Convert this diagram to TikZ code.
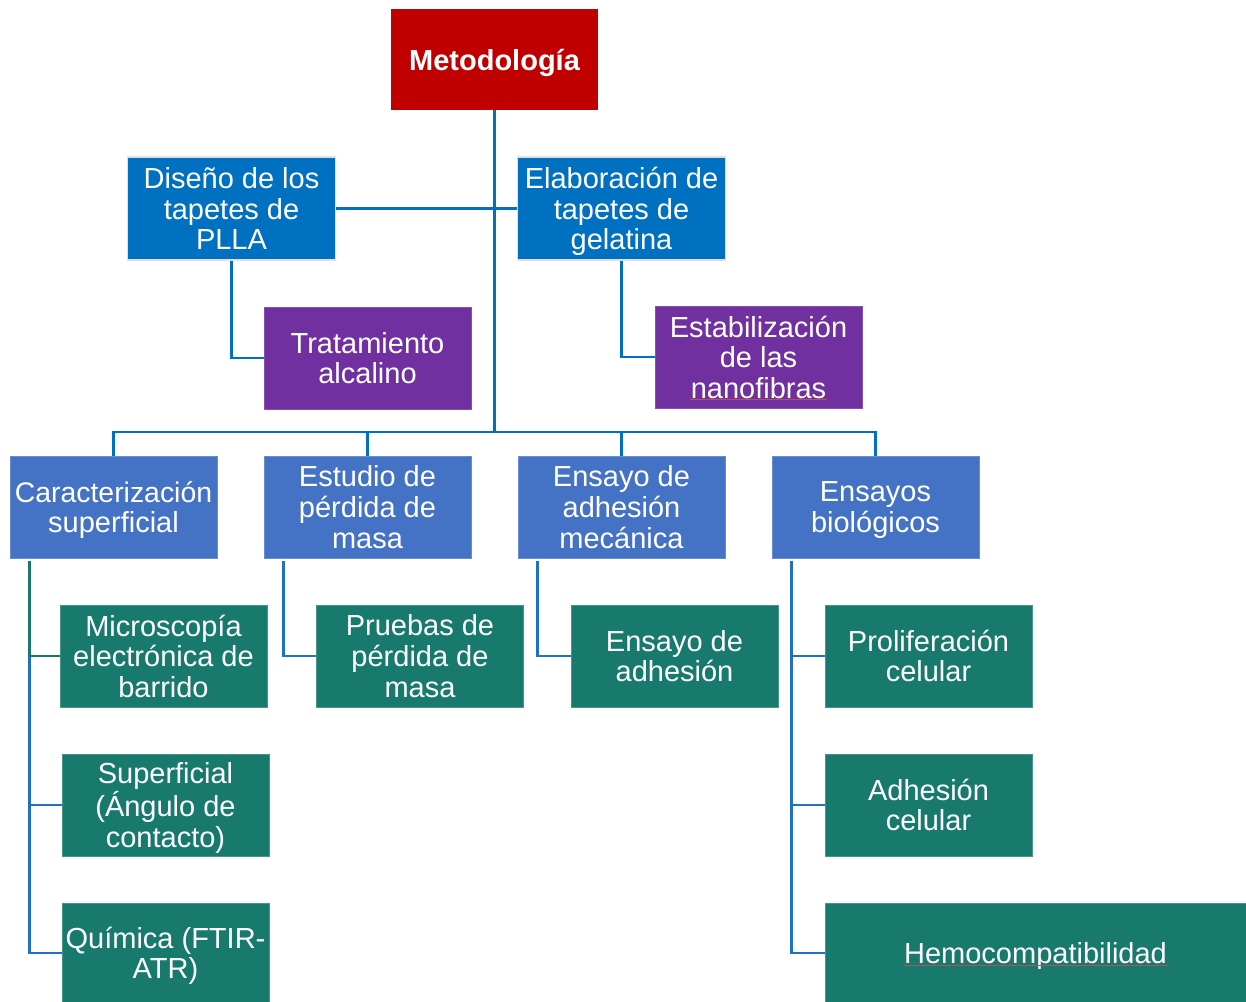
\documentclass[tikz,border=0pt]{standalone}
\usepackage{fontspec}
\setmainfont{Liberation Sans}
\definecolor{cRed}{HTML}{C00000}
\definecolor{cBlue}{HTML}{0070C0}
\definecolor{cPurple}{HTML}{7030A0}
\definecolor{cMid}{HTML}{4472C4}
\definecolor{cGreen}{HTML}{177A6D}
\definecolor{cLine}{HTML}{1F72C0}
\definecolor{cSpell}{HTML}{B5515A}
\begin{document}
\begin{tikzpicture}[x=0.75pt,y=-0.75pt,
  box/.style={rectangle, inner sep=0pt, align=center, text=white, text depth=0pt,
    font=\fontsize{21.75}{22.9}\selectfont},
  topbox/.style={box, fill=cRed, minimum width=155.25pt, minimum height=75.75pt,
    font=\fontsize{21.75}{22.9}\selectfont\bfseries},
  lvlone/.style={box, fill=cBlue, draw=black!12, line width=1.4pt,
    minimum width=156pt, minimum height=77pt},
  purplebox/.style={box, fill=cPurple, draw=cPurple!85!white, line width=0.6pt,
    minimum width=155.25pt, minimum height=76.5pt},
  midbox/.style={box, fill=cMid, draw=cMid!80!white, line width=0.6pt,
    minimum width=155.25pt, minimum height=76.5pt},
  leafbox/.style={box, fill=cGreen, draw=cGreen!80!white, line width=0.6pt,
    minimum width=155.25pt, minimum height=76.5pt},
  conn/.style={draw=cBlue, line width=2.2pt},
  subconn/.style={draw=cLine, line width=1.9pt},
  spell/.style={draw=cSpell, line width=0.7pt}]

\useasboundingbox (0,0) rectangle (1246,1002);

% root and first level
\node[topbox] (met) at (494.5,59.5) {Metodología};
\node[lvlone] (dis) at (231.5,208.5) {Diseño de los\\tapetes de\\PLLA};
\node[lvlone] (ela) at (621.5,208.5) {Elaboración de\\tapetes de\\gelatina};
\node[purplebox] (tra) at (367.5,358) {Tratamiento\\alcalino};
\node[purplebox] (est) at (758.5,357) {Estabilización\\de las\\nanofibras};

% second level
\node[midbox] (car) at (113.5,507)
  {\fontsize{21.3}{22.9}\selectfont Caracterización\\superficial};
\node[midbox] (pm) at (367.5,507) {Estudio de\\pérdida de\\masa};
\node[midbox] (mec) at (621.5,507) {Ensayo de\\adhesión\\mecánica};
\node[midbox] (bio) at (875.5,507) {Ensayos\\biológicos};

% leaves
\node[leafbox] (mic) at (163.5,656) {Microscopía\\electrónica de\\barrido};
\node[leafbox] (sup) at (165.5,805) {Superficial\\(Ángulo de\\contacto)};
\node[leafbox, minimum height=75pt] (qui) at (165.5,953) {Química (FTIR-\\ATR)};
\node[leafbox] (pru) at (420,656) {Pruebas de\\pérdida de\\masa};
\node[leafbox] (adh) at (674.5,656) {Ensayo de\\adhesión};
\node[leafbox] (pro) at (928.5,656) {Proliferación\\celular};
\node[leafbox] (ace) at (928.5,805) {Adhesión\\celular};
\node[leafbox, minimum width=315.75pt, minimum height=75pt] (hem) at (1035.5,953)
  {Hemocompatibilidad};

% spelling marks under two words
\draw[spell] (690,399) -- (827,399);
\draw[spell] (903,965) -- (1169,965);

% main trunk and bus
\coordinate (hub) at (494.5,432);
\draw[conn] (met.south) -- (hub);
\draw[conn] (dis.east) -- (ela.west);
\draw[conn] (dis.south) |- (tra.west);
\draw[conn] (ela.south) |- (est.west);
\draw[conn] (car.north) |- (hub) -| (bio.north);
\draw[conn] (pm.north) -- (pm.north |- hub);
\draw[conn] (mec.north) -- (mec.north |- hub);

% branches below the second level
\coordinate (carx) at ([xshift=15pt,yshift=-2pt]car.south west);
\coordinate (pmx)  at ([xshift=15pt,yshift=-2pt]pm.south west);
\coordinate (mecx) at ([xshift=15pt,yshift=-2pt]mec.south west);
\coordinate (biox) at ([xshift=15pt,yshift=-2pt]bio.south west);

\draw[subconn] (carx) |- (qui.west);
\draw[subconn] (carx) |- (sup.west);
\draw[subconn, draw=cGreen] (carx) |- (mic.west);
\draw[subconn] (pmx) |- (pru.west);
\draw[subconn] (mecx) |- (adh.west);
\draw[subconn] (biox) |- (hem.west);
\draw[subconn] (biox) |- (ace.west);
\draw[subconn] (biox) |- (pro.west);
\end{tikzpicture}
\end{document}
